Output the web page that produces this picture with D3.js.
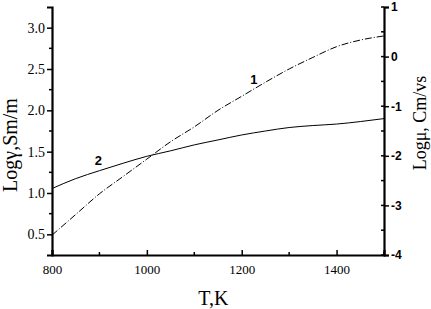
<!DOCTYPE html>
<meta charset="utf-8">
<script src="https://d3js.org/d3.v7.min.js"></script>
<style>
  body { margin: 0; background: #fff; }
</style>
<div id="my_dataviz"></div>
<script>

// temperatures, K
var temps = [800, 850, 900, 950, 1000, 1050, 1100, 1150, 1200, 1250, 1300, 1350, 1400, 1450, 1500];
// curve 1, Log gamma (left axis)
var curve1 = [0.49, 0.74, 0.99, 1.20, 1.41, 1.62, 1.80, 2.00, 2.17, 2.34, 2.50, 2.64, 2.77, 2.85, 2.90];
// curve 2, Log mu (right axis)
var curve2 = [-2.66, -2.46, -2.30, -2.15, -2.01, -1.90, -1.78, -1.68, -1.58, -1.50, -1.43, -1.39, -1.36, -1.31, -1.25];

var xTicks = [800, 1000, 1200, 1400];
var xMinor = [900, 1100, 1300, 1500];
var leftTicks = [0.5, 1.0, 1.5, 2.0, 2.5, 3.0];
var leftMinor = [0.75, 1.25, 1.75, 2.25, 2.75];
var rightTicks = [1, 0, -1, -2, -3, -4];
var rightMinor = [0.5, -0.5, -1.5, -2.5, -3.5];

var margin = {top: 7, right: 47, bottom: 54, left: 52},
    width = 431 - margin.left - margin.right,
    height = 309 - margin.top - margin.bottom;

var svg = d3.select("#my_dataviz")
  .append("svg")
    .attr("width", 431)
    .attr("height", 309)
  .append("g")
    .attr("transform", "translate(" + margin.left + "," + margin.top + ")");

var x = d3.scaleLinear().domain([800, 1500]).range([0, width]);
var yL = d3.scaleLinear().domain([0.25, 3.25]).range([height, 0]);
var yR = d3.scaleLinear().domain([-4, 1]).range([height, 0]);

var serif = "'Liberation Serif', 'Times New Roman', serif";
var sans = "'Liberation Sans', Arial, sans-serif";

// bottom axis, ticks pointing in
var xAxis = svg.append("g")
  .attr("transform", "translate(0," + height + ")")
  .call(d3.axisBottom(x).tickValues(xTicks).tickSize(-5).tickPadding(10).tickFormat(d3.format("d")));
xAxis.append("g").selectAll("line").data(xMinor).join("line")
  .attr("x1", d => x(d)).attr("x2", d => x(d)).attr("y1", 0).attr("y2", -3)
  .attr("stroke", "black").attr("stroke-width", 1.5);

// left axis
var leftAxis = svg.append("g")
  .call(d3.axisLeft(yL).tickValues(leftTicks).tickSize(5).tickPadding(2).tickFormat(d3.format(".1f")));
leftAxis.append("g").selectAll("line").data(leftMinor).join("line")
  .attr("x1", 0).attr("x2", -3).attr("y1", d => yL(d)).attr("y2", d => yL(d))
  .attr("stroke", "black").attr("stroke-width", 1.5);

// right axis
var rightAxis = svg.append("g")
  .attr("transform", "translate(" + width + ",0)")
  .call(d3.axisRight(yR).tickValues(rightTicks).tickSize(5).tickPadding(2).tickFormat(d => d < 0 ? "-" + Math.abs(d) : d));
rightAxis.append("g").selectAll("line").data(rightTicks.concat(rightMinor)).join("line")
  .attr("x1", 0).attr("x2", -3).attr("y1", d => yR(d)).attr("y2", d => yR(d))
  .attr("stroke", "black").attr("stroke-width", 1.5);

[xAxis, leftAxis, rightAxis].forEach(function(a) {
  a.select(".domain").attr("stroke-width", 2.2);
  a.selectAll(".tick line").attr("stroke-width", 1.5);
});
xAxis.selectAll("text").attr("font-family", serif).attr("font-size", 13);
leftAxis.selectAll("text").attr("font-family", serif).attr("font-size", 14);
rightAxis.selectAll("text").attr("font-family", sans).attr("font-size", 12).attr("font-weight", "bold");

// curves
var pts1 = temps.map((t, i) => [t, curve1[i]]);
var pts2 = temps.map((t, i) => [t, curve2[i]]);

svg.append("path")
  .datum(pts1)
  .attr("fill", "none")
  .attr("stroke", "black")
  .attr("stroke-width", 1)
  .attr("stroke-dasharray", "7,2,1,2")
  .attr("d", d3.line().curve(d3.curveMonotoneX).x(d => x(d[0])).y(d => yL(d[1])));

svg.append("path")
  .datum(pts2)
  .attr("fill", "none")
  .attr("stroke", "black")
  .attr("stroke-width", 1)
  .attr("d", d3.line().curve(d3.curveMonotoneX).x(d => x(d[0])).y(d => yR(d[1])));

// curve numbers
svg.append("text").attr("x", x(1218)).attr("y", yL(2.32)).text("1")
  .attr("font-family", sans).attr("font-size", 13).attr("font-weight", "bold");
svg.append("text").attr("x", x(890)).attr("y", yR(-2.19)).text("2")
  .attr("font-family", sans).attr("font-size", 13).attr("font-weight", "bold");

// axis titles
svg.append("text")
  .attr("transform", "translate(-35," + (height / 2 + 14) + ") rotate(-90)")
  .attr("text-anchor", "middle")
  .attr("font-family", serif).attr("font-size", 20)
  .text("Logγ,Sm/m");

svg.append("text")
  .attr("transform", "translate(" + (width + 42) + "," + (height / 2 - 8) + ") rotate(-90)")
  .attr("text-anchor", "middle")
  .attr("font-family", serif).attr("font-size", 18)
  .text("Logμ, Cm/vs");

svg.append("text")
  .attr("x", x(1140))
  .attr("y", height + 50)
  .attr("text-anchor", "middle")
  .attr("font-family", serif).attr("font-size", 20)
  .text("T,K");

</script>
